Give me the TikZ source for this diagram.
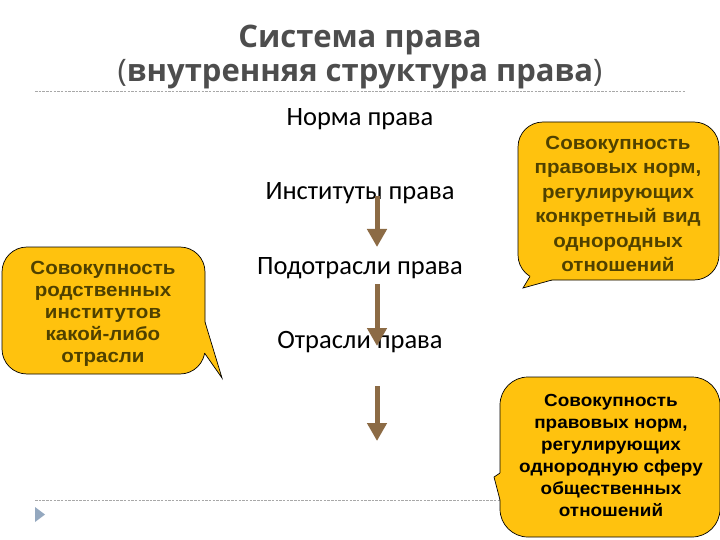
\documentclass[tikz,border=0pt]{standalone}
\usepackage{fontspec}
\setmainfont{Liberation Sans}
\newfontfamily\titlefont{Open Sans}
\newfontfamily\calfont{Carlito}
\newfontfamily\widefont[FakeStretch=1.08]{Liberation Sans}
\usetikzlibrary{arrows.meta}
\definecolor{bubble}{HTML}{FFC20E}
\definecolor{olivetext}{HTML}{4F4100}
\definecolor{brownarrow}{HTML}{8C6B45}
\definecolor{titlegray}{HTML}{4D4D4D}
\definecolor{bulletblue}{HTML}{94A8BF}
\definecolor{rulegray}{HTML}{A8A8A8}
\begin{document}
\begin{tikzpicture}[x=1pt,y=-1pt,
  titletext/.style={font=\titlefont\bfseries\fontsize{31}{35}\selectfont, text=titlegray, anchor=base, inner sep=0pt},
  leveltext/.style={font=\calfont\fontsize{26.5}{30}\selectfont, text=black, anchor=base, inner sep=0pt},
  rulestyle/.style={draw=rulegray, line width=0.6pt, dash pattern=on 2.5pt off 1.2pt},
  bubblebox/.style={draw=black, line width=0.7pt, fill=bubble, rounded corners=25pt, inner sep=0pt},
  bubbleedge/.style={draw=black, line width=0.7pt},
  bubbletext/.style={align=center, inner sep=0pt},
  flow/.style={draw=brownarrow, line width=5pt, -{Triangle[length=18pt,width=19pt]}}
]
\useasboundingbox (0,0) rectangle (720,540);
\fill[white] (0,0) rectangle (720,540);

% title
\node[titletext] (t1) at (360,48) {Система права};
\node[titletext] (t2) at (360,82) {{\mdseries(}внутренняя структура права{\mdseries)}};
\coordinate (r1a) at (35,91);
\coordinate (r1b) at (686,91);
\draw[rulestyle] (r1a) -- (r1b);

% bottom rule and bullet
\coordinate (r2a) at (35,500);
\coordinate (r2b) at (686,500);
\draw[rulestyle] (r2a) -- (r2b);
\fill[bulletblue] (35,507) -- (45,514.5) -- (35,522) -- cycle;

% levels
\node[leveltext] (norma) at (360,126) {Норма права};
\node[leveltext] (inst) at (360,200) {Институты права};
\node[leveltext] (podotr) at (360,274) {Подотрасли права};
\node[leveltext] (otr) at (360,348) {Отрасли права};

\coordinate (a1s) at (377,196);
\coordinate (a1e) at (377,247);
\coordinate (a2s) at (377,284);
\coordinate (a2e) at (377,346);
\coordinate (a3s) at (377,386);
\coordinate (a3e) at (377,441);
\draw[flow] (a1s) -- (a1e);
\draw[flow] (a2s) -- (a2e);
\draw[flow] (a3s) -- (a3e);

% top-right bubble
\node[bubblebox, minimum width=201pt, minimum height=158pt] (trbox) at (618.5,201) {};
\coordinate (trtip) at (523,288);
\fill[bubble] (530,276) -- (trtip) -- (552,280) -- (552,274) -- cycle;
\draw[bubbleedge] (530,276.4) -- (trtip) -- (552,280);
\node[bubbletext, text=olivetext, font=\widefont\bfseries\fontsize{19}{24.4}\selectfont] (trtext) at (618,204)
  {Совокупность\\правовых норм,\\регулирующих\\конкретный вид\\однородных\\отношений};

% left bubble
\node[bubblebox, minimum width=203pt, minimum height=127pt] (lbox) at (103.5,310.5) {};
\coordinate (ltip) at (222,378);
\fill[bubble] (200,322) -- (205,322) -- (ltip) -- (204.5,353) -- (200,353) -- cycle;
\draw[bubbleedge] (205,322) -- (ltip) -- (204.5,353);
\node[bubbletext, text=olivetext, font=\widefont\bfseries\fontsize{19}{22}\selectfont] (ltext) at (103,314)
  {Совокупность\\родственных\\институтов\\какой-либо\\отрасли};

% bottom-right bubble
\node[bubblebox, minimum width=220pt, minimum height=160pt, rounded corners=28pt] (brbox) at (610,457) {};
\coordinate (brtip) at (494,477);
\fill[bubble] (500,473) -- (brtip) -- (500,500) -- (505,500) -- (505,473) -- cycle;
\draw[bubbleedge] (500,473) -- (brtip) -- (500,500);
\node[bubbletext, text=black, font=\widefont\bfseries\fontsize{17.5}{22}\selectfont] (brtext) at (611,455)
  {Совокупность\\правовых норм,\\регулирующих\\однородную сферу\\общественных\\отношений};
\end{tikzpicture}
\end{document}
